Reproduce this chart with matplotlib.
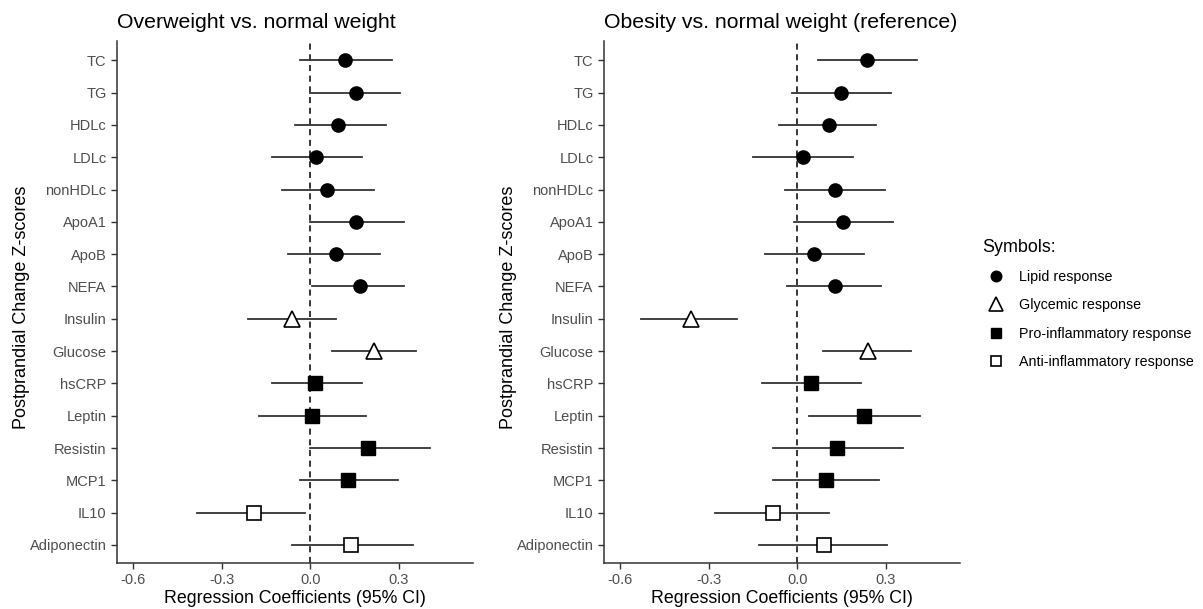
import numpy as np
import matplotlib.pyplot as plt
from matplotlib.lines import Line2D

plt.rcParams['font.family'] = ['Liberation Sans', 'DejaVu Sans']

# outcomes, top to bottom
markers_names = ['TC', 'TG', 'HDLc', 'LDLc', 'nonHDLc', 'ApoA1', 'ApoB', 'NEFA',
                 'Insulin', 'Glucose', 'hsCRP', 'Leptin', 'Resistin', 'MCP1',
                 'IL10', 'Adiponectin']
groups = ['lipid'] * 8 + ['glycemic'] * 2 + ['pro'] * 4 + ['anti'] * 2

# overweight vs normal weight
ow_est = [0.117, 0.156, 0.095, 0.019, 0.057, 0.156, 0.088, 0.169,
          -0.061, 0.218, 0.017, 0.006, 0.196, 0.128, -0.190, 0.138]
ow_lo = [-0.033, 0.000, -0.053, -0.130, -0.094, 0.000, -0.075, 0.006,
         -0.212, 0.075, -0.130, -0.172, 0.000, -0.034, -0.383, -0.063]
ow_hi = [0.277, 0.306, 0.258, 0.175, 0.216, 0.318, 0.237, 0.318,
         0.086, 0.358, 0.175, 0.188, 0.406, 0.298, -0.016, 0.347]

# obesity vs normal weight
ob_est = [0.237, 0.149, 0.107, 0.019, 0.129, 0.157, 0.056, 0.129,
          -0.360, 0.239, 0.046, 0.227, 0.136, 0.097, -0.081, 0.090]
ob_lo = [0.069, -0.019, -0.061, -0.149, -0.041, -0.012, -0.108, -0.033,
         -0.530, 0.088, -0.121, 0.041, -0.081, -0.081, -0.279, -0.130]
ob_hi = [0.407, 0.319, 0.266, 0.189, 0.297, 0.325, 0.225, 0.285,
         -0.204, 0.385, 0.216, 0.415, 0.358, 0.277, 0.107, 0.305]

xticks = [-0.6, -0.3, 0.0, 0.3]

# symbol for each response type
styles = {
    'lipid': dict(marker='o', mfc='black', mec='black', ms=9.5),
    'glycemic': dict(marker='^', mfc='white', mec='black', ms=12, mew=1.2),
    'pro': dict(marker='s', mfc='black', mec='black', ms=9.5),
    'anti': dict(marker='s', mfc='white', mec='black', ms=9.5, mew=1.2),
}
legend_names = {
    'lipid': 'Lipid response',
    'glycemic': 'Glycemic response',
    'pro': 'Pro-inflammatory response',
    'anti': 'Anti-inflammatory response',
}

fig = plt.figure(figsize=(12.03, 6.09), dpi=100)
ax1 = fig.add_axes([117 / 1203, 46 / 609, 356 / 1203, 522 / 609])
ax2 = fig.add_axes([604 / 1203, 46 / 609, 356 / 1203, 522 / 609])

axis_col = '#333333'
tick_col = '#4D4D4D'


def forest(ax, est, lo, hi, title):
    n = len(markers_names)
    y = np.arange(n)[::-1]
    ax.axvline(0, color='black', ls=(0, (4, 3)), lw=1.1, zorder=1)
    for i in range(n):
        ax.plot([lo[i], hi[i]], [y[i], y[i]], color='#333333', lw=1.3, zorder=2)
        ax.plot(est[i], y[i], ls='none', zorder=3, **styles[groups[i]])
    ax.set_xlim(-0.655, 0.552)
    ax.set_ylim(-0.56, n - 1 + 0.6)
    ax.set_yticks(y)
    ax.set_yticklabels(markers_names)
    ax.set_xticks(xticks)
    ax.set_xticklabels(['%.1f' % v for v in xticks])
    ax.tick_params(axis='both', colors=axis_col, labelcolor=tick_col,
                   labelsize=10.5, length=4, width=1)
    for s in ['top', 'right']:
        ax.spines[s].set_visible(False)
    for s in ['left', 'bottom']:
        ax.spines[s].set_color(axis_col)
        ax.spines[s].set_linewidth(1.1)
    ax.set_xlabel('Regression Coefficients (95% CI)', fontsize=12.8, labelpad=2)
    ax.set_ylabel('Postprandial Change Z-scores', fontsize=13)
    ax.yaxis.set_label_coords(-0.245, 0.49)
    ax.set_title(title, loc='left', fontsize=15.3, pad=9)


forest(ax1, ow_est, ow_lo, ow_hi, 'Overweight vs. normal weight')
forest(ax2, ob_est, ob_lo, ob_hi, 'Obesity vs. normal weight (reference)')

handles = []
for g in ['lipid', 'glycemic', 'pro', 'anti']:
    st = dict(styles[g])
    st['ms'] = st['ms'] * 0.8
    handles.append(Line2D([], [], ls='none', label=legend_names[g], **st))
fig.legend(handles=handles, title='Symbols:', loc='upper left',
           bbox_to_anchor=(976 / 1203, 1 - 233 / 609), frameon=False,
           fontsize=10.3, title_fontsize=12.9, alignment='left',
           handletextpad=0.6, labelspacing=1.0, borderaxespad=0)

fig.savefig('out.png', dpi=100)
